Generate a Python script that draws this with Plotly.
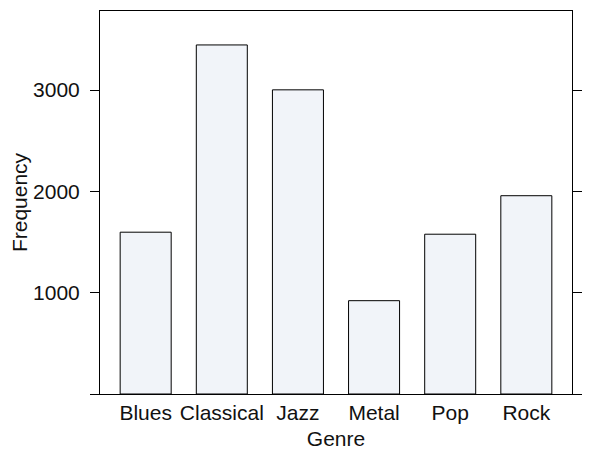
import plotly.graph_objects as go

genres = ["Blues", "Classical", "Jazz", "Metal", "Pop", "Rock"]
frequency = [1597, 3445, 3002, 921, 1577, 1957]
y_tickvals = [0, 1000, 2000, 3000]
y_ticktext = ["", "1000", "2000", "3000"]

font_family = "Liberation Sans, Arial, Helvetica, sans-serif"
fs = 21

fig = go.Figure()
fig.add_trace(go.Bar(
    x=list(range(len(genres))),
    y=frequency,
    width=0.67,
    marker=dict(color="#F1F4F9", line=dict(color="black", width=1)),
))

fig.update_layout(
    width=583, height=445,
    margin=dict(l=92, r=19, t=3, b=59),
    paper_bgcolor="white", plot_bgcolor="white",
    showlegend=False,
    font=dict(family=font_family, size=fs, color="#111111"),
    xaxis=dict(
        range=[-0.6, 5.6],
        tickmode="array",
        tickvals=list(range(len(genres))),
        ticktext=genres,
        ticks="", ticklen=0,
        ticklabelstandoff=0,
        showgrid=False, zeroline=False,
        showline=True, linecolor="black", linewidth=1, mirror=True,
        automargin=False,
        title=dict(text="Genre", standoff=8, font=dict(size=fs)),
        tickfont=dict(size=fs),
    ),
    yaxis=dict(
        range=[0, 3780],
        tickmode="array",
        tickvals=y_tickvals,
        ticktext=y_ticktext,
        ticks="outside", ticklen=9, tickcolor="black", tickwidth=1,
        ticklabelstandoff=6,
        showgrid=False, zeroline=False,
        showline=True, linecolor="black", linewidth=1, mirror="allticks",
        automargin=False,
        title=dict(text="Frequency", standoff=14, font=dict(size=fs)),
        tickfont=dict(size=fs),
    ),
)

fig.write_html("out.html")
